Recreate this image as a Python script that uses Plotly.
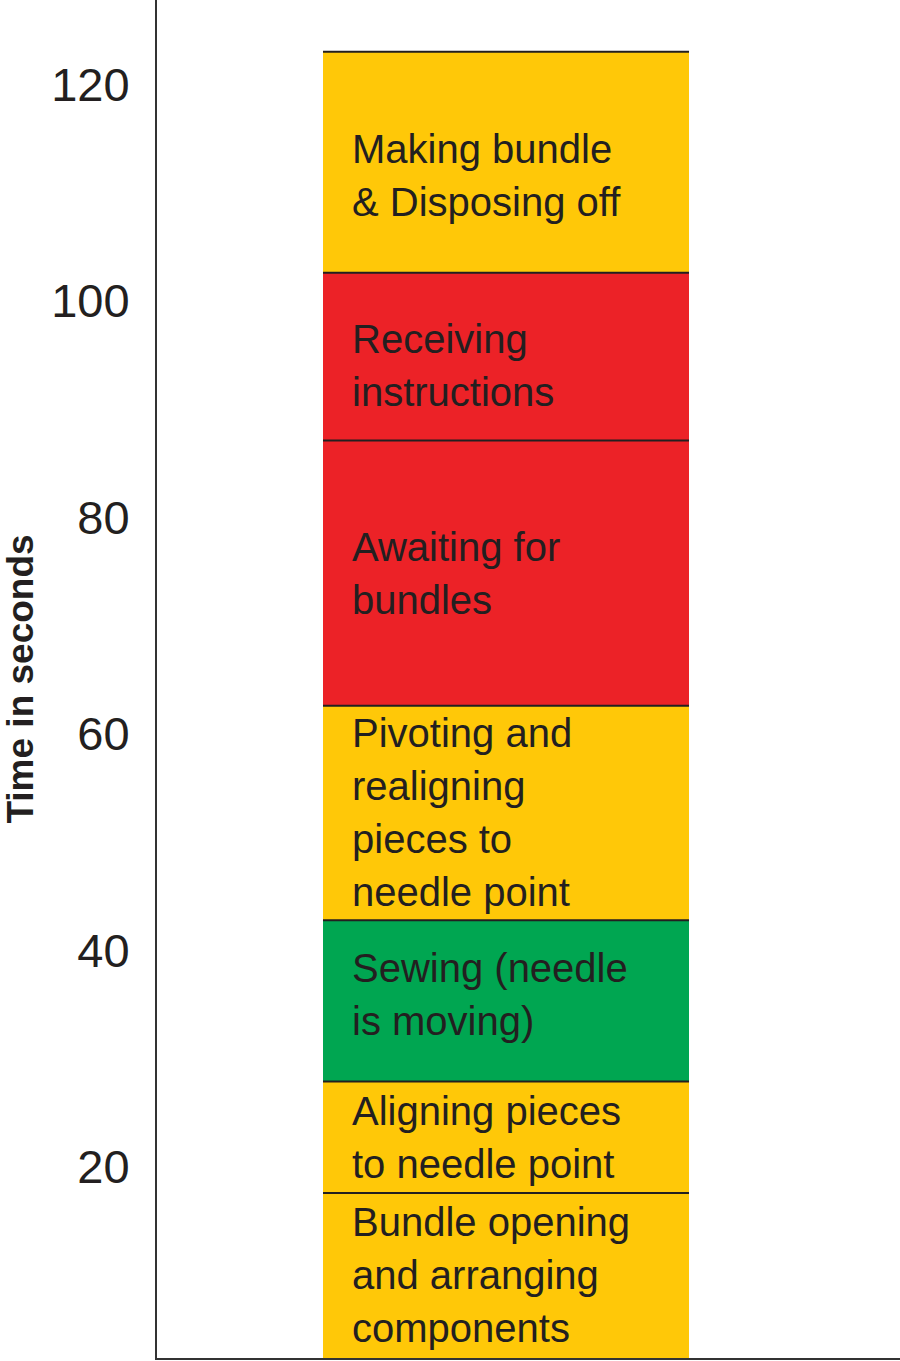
import plotly.graph_objects as go

# ---- data ----
stages = [
    "Bundle opening\nand arranging\ncomponents",
    "Aligning pieces\nto needle point",
    "Sewing (needle\nis moving)",
    "Pivoting and\nrealigning\npieces to\nneedle point",
    "Awaiting for\nbundles",
    "Receiving\ninstructions",
    "Making bundle\n& Disposing off",
]
durations = [17.6, 10.3, 14.9, 19.8, 24.5, 15.5, 20.4]  # seconds
y_ticks = [20, 40, 60, 80, 100, 120]
y_title = "Time in seconds"

# ---- style ----
YEL, RED, GRN = "#FFC808", "#EC2227", "#00A651"
colors = [YEL, YEL, GRN, YEL, RED, RED, YEL]
label_nudge_px = [0, 0, 6, 0, 0, -9, -13]   # small vertical label offsets (style)
INK = "#231F20"
Y_RANGE = [2.355, 127.79]
X_RANGE = [-0.9536, 1.0765]
LABEL_FONT = dict(family="Liberation Sans, Arial", size=40, color=INK)
LINE_STEP = 53

fig = go.Figure()
base = 0.0
annotations = []
shapes = []
for name, dur, col, nudge in zip(stages, durations, colors, label_nudge_px):
    fig.add_trace(go.Bar(x=[0], y=[dur], width=1, marker=dict(color=col, line=dict(width=0)),
                         name=name.replace("\n", " "), hoverinfo="name+y"))
    top = base + dur
    low = max(base, Y_RANGE[0])
    center = (low + top) / 2
    lines = name.split("\n")
    n = len(lines)
    for i, ln in enumerate(lines):
        annotations.append(dict(x=-0.5, y=center, xref="x", yref="y", text=ln,
                                showarrow=False, xanchor="left", yanchor="middle",
                                xshift=27, yshift=((n - 1) / 2 - i) * LINE_STEP + nudge,
                                font=LABEL_FONT))
    shapes.append(dict(type="line", xref="x", yref="y", x0=-0.5, x1=0.5, y0=top, y1=top,
                       line=dict(color=INK, width=2), layer="above"))
    base = top

fig.update_layout(
    barmode="stack",
    width=900, height=1361,
    margin=dict(l=157, r=0, t=0, b=3),
    paper_bgcolor="white", plot_bgcolor="white",
    showlegend=False,
    annotations=annotations,
    shapes=shapes,
    xaxis=dict(range=X_RANGE, showline=True, linecolor="#333333", linewidth=2,
               showticklabels=False, showgrid=False, zeroline=False, ticks="",
               automargin=False),
    yaxis=dict(range=Y_RANGE, tickvals=y_ticks, showline=True, linecolor="#333333",
               linewidth=2, ticks="", showgrid=False, zeroline=False,
               automargin=False, ticklabelstandoff=16,
               tickfont=dict(family="Liberation Sans, Arial", size=47, color=INK),
               title=dict(text=y_title, standoff=30,
                          font=dict(family="Liberation Sans, Arial", size=37,
                                    color=INK, weight="bold"))),
)

fig.write_html("out.html", config={"displayModeBar": False},
               post_script="document.body.style.margin='0';document.body.style.overflow='hidden';")
